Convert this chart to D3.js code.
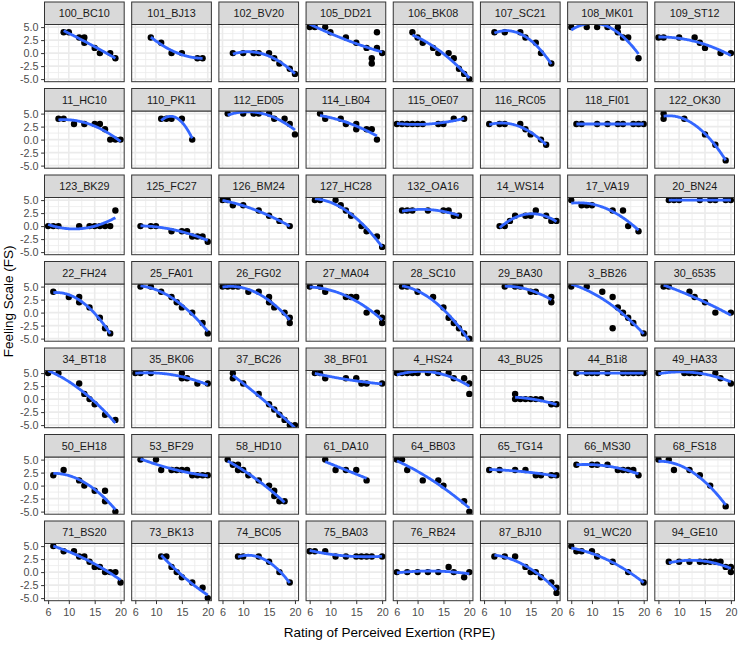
<!DOCTYPE html>
<html><head><meta charset="utf-8">
<script src="https://cdn.jsdelivr.net/npm/d3@7"></script>
<style>body{margin:0;background:#fff}svg{display:block}</style>
</head><body><svg id="c" width="738" height="647"></svg>
<script>
const ids = ["100_BC10","101_BJ13","102_BV20","105_DD21","106_BK08","107_SC21","108_MK01","109_ST12",
"11_HC10","110_PK11","112_ED05","114_LB04","115_OE07","116_RC05","118_FI01","122_OK30",
"123_BK29","125_FC27","126_BM24","127_HC28","132_OA16","14_WS14","17_VA19","20_BN24",
"22_FH24","25_FA01","26_FG02","27_MA04","28_SC10","29_BA30","3_BB26","30_6535",
"34_BT18","35_BK06","37_BC26","38_BF01","4_HS24","43_BU25","44_B1i8","49_HA33",
"50_EH18","53_BF29","58_HD10","61_DA10","64_BB03","65_TG14","66_MS30","68_FS18",
"71_BS20","73_BK13","74_BC05","75_BA03","76_RB24","87_BJ10","91_WC20","94_GE10"];

const rpe = [
[9,10,12,13,13,15,16,18,19],
[9,11,13,15,18,19],
[8,10,12,13,15,16,17,19,20],
[6,7,9,10,13,15,17,18,18,19,19,20],
[9,10,11,13,14,16,17,18,19,20],
[8,10,13,14,16,17,19],
[6,9,11,13,15,15,16,17,19],
[6,7,10,13,14,15,18,20],
[8,9,11,13,15,16,17,18,19,20],
[11,12,13,15,17],
[7,10,12,13,15,16,18,19,20],
[8,9,12,13,15,15,17,18,19],
[6,7,8,9,10,11,14,15,17,19],
[7,9,10,13,14,15,17,18],
[7,8,11,13,15,16,18,19,20],
[7,7,11,15,17,19],
[6,7,8,12,14,15,16,17,18,19],
[7,9,10,13,15,16,17,18,19,20],
[6,7,8,10,13,15,17,19],
[7,8,11,12,13,14,16,17,19,20],
[7,8,9,12,15,16,17,18],
[9,10,11,12,14,15,16,18,19,20],
[6,8,9,10,14,16,17,19],
[8,9,10,14,16,17,19,20],
[7,10,12,12,14,16,17,18],
[7,9,11,13,14,15,17,19,20],
[6,7,8,9,11,13,15,15,16,18,19,19],
[6,8,9,13,14,15,17,19,20,20],
[7,8,10,13,15,16,17,18,19,20],
[10,12,13,15,16,19,19],
[6,9,12,14,14,15,16,17,18,20],
[7,8,12,13,15,17,20],
[6,8,12,13,14,15,17,19],
[6,7,9,15,15,16,18,20],
[8,8,10,13,15,16,17,18,19,20],
[7,8,9,13,15,16,17,20],
[6,7,8,9,10,12,14,16,17,19,20,20],
[12,12,13,14,15,16,17,19,20],
[7,9,10,11,13,16,17,18,19,20],
[6,11,12,13,14,17,18,20],
[7,9,12,13,15,17,17,19],
[7,10,11,13,14,15,16,17,18,19,20],
[7,8,9,9,10,11,13,15,16,16,17,18],
[9,11,13,15,17],
[6,7,8,11,14,15,19,20],
[7,9,12,14,16,17,19,20],
[7,10,11,13,15,16,17,18,19],
[6,8,9,12,14,16,19],
[7,9,11,12,13,14,15,16,17,18,19,20],
[11,12,13,14,15,17,19,20],
[9,10,13,15,17,19],
[6,7,9,11,13,15,16,17,18,20],
[6,8,10,12,14,16,17,19,20],
[8,10,12,14,15,16,17,19,20,20],
[6,7,8,10,11,14,17,20],
[8,10,12,14,15,16,17,18,19,20,20]
];

const fs = [
[4,4,3,3,2,1,0,0,-1],
[3,2,0,0,-1,-1],
[0,0,0,0,0,-1,-2,-3,-4],
[5,5,5,4,3,2,1,-1,-2,4,1,0],
[4,3,2,1,0,0,-1,-3,-4,-5],
[4,4,4,3,2,0,-2],
[5,5,5,5,5,4,3,3,-1],
[3,3,3,3,2,1,0,0],
[4,4,3,3,3,3,2,0,0,0],
[4,4,4,4,0],
[5,5,5,5,5,4,4,3,1],
[5,4,4,3,3,2,2,2,0],
[3,3,3,3,3,3,3,3,4,4],
[3,3,3,3,2,1,0,-1],
[3,3,3,3,3,3,3,3,3],
[5,4,4,1,-1,-4],
[0,0,0,0,0,0,0,0,0,3],
[0,0,0,-1,-1,-1,-2,-2,-2,-3],
[5,5,4,4,3,2,1,0],
[5,5,5,4,3,2,0,-1,-2,-4],
[3,3,3,3,3,3,2,2],
[0,0,1,2,2,2,3,2,1,1],
[5,4,4,4,3,3,0,-1],
[5,5,5,5,5,5,5,5],
[4,3,3,2,1,-1,-3,-4],
[5,5,4,3,2,1,0,-2,-4],
[5,5,5,5,4,4,3,2,1,0,-1,-2],
[5,5,4,3,3,3,0,0,-1,-2],
[5,5,4,3,1,-1,-2,-3,-4,-5],
[5,5,5,4,4,3,2],
[5,5,4,3,-3,1,0,-1,-2,-4],
[5,5,4,3,2,0,0],
[5,5,3,1,0,-1,-3,-4],
[5,5,5,5,4,4,3,3],
[5,4,3,1,-1,-2,-3,-4,-5,-5],
[5,5,4,4,4,3,3,3],
[5,5,5,5,5,5,5,5,4,4,3,1],
[1,0,0,0,0,0,0,-1,-1],
[5,5,5,5,5,5,5,5,5,5],
[5,5,5,5,5,5,4,3],
[2,3,1,0,-1,-1,-3,-5],
[5,5,3,3,3,3,3,2,2,2,2],
[5,4,4,3,3,2,1,0,-1,-2,-3,-3],
[5,3,3,3,1],
[5,5,3,1,1,0,-3,-5],
[3,3,3,3,2,2,2,2],
[4,4,4,4,3,3,3,3,2],
[5,5,3,3,2,0,-4],
[5,4,4,3,3,2,1,1,0,0,0,-2],
[3,3,1,0,-1,-2,-3,-5],
[3,3,3,2,0,-2],
[4,4,4,3,3,3,3,3,3,3],
[0,0,0,0,0,1,0,-1,0],
[3,3,3,1,0,0,-1,-2,-3,-4],
[5,4,4,4,3,2,0,-2],
[2,2,2,2,2,2,2,2,1,1,0]
];

const xTicks = [6,10,15,20];
const xTickLabels = ["6","10","15","20"];
const yTicks = [-5,-2.5,0,2.5,5];
const yTickLabels = ["-5.0","-2.5","0.0","2.5","5.0"];
const xMinor = [8,12.5,17.5];
const yMinor = [-3.75,-1.25,1.25,3.75];
const xTitle = "Rating of Perceived Exertion (RPE)";
const yTitle = "Feeling Scale (FS)";

(function(){
const W = 738, H = 647;
const ncol = 8, nrow = 7;
const mL = 44.5, mR = 734.5, mT = 2;
const gap = 6.8, stripH = 22.5, rowStep = 86.5;
const pw = (mR - mL - 7.5*(ncol-1))/ncol;
const colStep = pw + 7.5;
const cellH = rowStep - gap;
const ph = cellH - stripH;
const mB = mT + (nrow-1)*rowStep + cellH;
const FONT = "'Liberation Sans', Arial, Helvetica, sans-serif";

const x = d3.scaleLinear().domain([5.3, 20.7]).range([0, pw]);
const y = d3.scaleLinear().domain([-5.5, 5.5]).range([ph, 0]);

// least-squares fit y ~ x + x^2, evaluated on 80 points over the data range
function quadFit(xs, ys) {
  const xm = d3.mean(xs);
  const S = [0,0,0,0,0], T = [0,0,0];
  xs.forEach((v, i) => {
    const t = v - xm; let p = 1;
    for (let m = 0; m < 5; m++) { S[m] += p; if (m < 3) T[m] += p*ys[i]; p *= t; }
  });
  const A = [[S[0],S[1],S[2],T[0]],[S[1],S[2],S[3],T[1]],[S[2],S[3],S[4],T[2]]];
  for (let c = 0; c < 3; c++) {
    let piv = c;
    for (let r = c+1; r < 3; r++) if (Math.abs(A[r][c]) > Math.abs(A[piv][c])) piv = r;
    const tmp = A[c]; A[c] = A[piv]; A[piv] = tmp;
    for (let r = 0; r < 3; r++) if (r !== c) {
      const f = A[r][c]/A[c][c];
      for (let m = c; m < 4; m++) A[r][m] -= f*A[c][m];
    }
  }
  const b = [A[0][3]/A[0][0], A[1][3]/A[1][1], A[2][3]/A[2][2]];
  const xmin = d3.min(xs), xmax = d3.max(xs);
  return d3.range(80).map(k => {
    const x0 = xmin + (xmax - xmin)*k/79, t = x0 - xm;
    return [x0, b[0] + b[1]*t + b[2]*t*t];
  });
}

const svg = d3.select("#c");
svg.append("rect").attr("width", W).attr("height", H).attr("fill", "#fff");
svg.append("defs").append("clipPath").attr("id", "pclip")
  .append("rect").attr("x", 0).attr("y", 0).attr("width", pw).attr("height", ph);

const line = d3.line().x(d => x(d[0])).y(d => y(d[1]));

ids.forEach((id, idx) => {
  const col = idx % ncol, row = Math.floor(idx / ncol);
  const px = mL + col*colStep;
  const py = mT + row*rowStep + stripH;
  const g = svg.append("g").attr("transform", `translate(${px},${py})`);

  g.append("rect").attr("width", pw).attr("height", ph).attr("fill", "#fff");
  g.selectAll(".xm").data(xMinor).join("line")
    .attr("x1", d => x(d)).attr("x2", d => x(d)).attr("y1", 0).attr("y2", ph)
    .attr("stroke", "#EBEBEB").attr("stroke-width", 0.8);
  g.selectAll(".ym").data(yMinor).join("line")
    .attr("y1", d => y(d)).attr("y2", d => y(d)).attr("x1", 0).attr("x2", pw)
    .attr("stroke", "#EBEBEB").attr("stroke-width", 0.8);
  g.selectAll(".xM").data(xTicks).join("line")
    .attr("x1", d => x(d)).attr("x2", d => x(d)).attr("y1", 0).attr("y2", ph)
    .attr("stroke", "#EBEBEB").attr("stroke-width", 1.6);
  g.selectAll(".yM").data(yTicks).join("line")
    .attr("y1", d => y(d)).attr("y2", d => y(d)).attr("x1", 0).attr("x2", pw)
    .attr("stroke", "#EBEBEB").attr("stroke-width", 1.6);

  const pts = rpe[idx].map((v, i) => [v, fs[idx][i]]);
  const inner = g.append("g").attr("clip-path", "url(#pclip)");
  inner.selectAll("circle").data(pts).join("circle")
    .attr("cx", d => x(d[0])).attr("cy", d => y(d[1])).attr("r", 3.2)
    .attr("fill", "#000");
  inner.append("path").datum(quadFit(rpe[idx], fs[idx]))
    .attr("d", line).attr("fill", "none").attr("stroke", "#3366FF")
    .attr("stroke-width", 2.8).attr("stroke-linejoin", "round");

  g.append("rect").attr("width", pw).attr("height", ph)
    .attr("fill", "none").attr("stroke", "#333").attr("stroke-width", 1);
  g.append("rect").attr("x", 0).attr("y", -stripH).attr("width", pw).attr("height", stripH)
    .attr("fill", "#D9D9D9").attr("stroke", "#333").attr("stroke-width", 1);
  g.append("text").attr("x", pw/2).attr("y", -stripH/2).attr("dy", "0.36em")
    .attr("text-anchor", "middle").attr("font-family", FONT).attr("font-size", "10.8px")
    .attr("fill", "#1A1A1A").text(id);

  if (col === 0) {
    const ax = g.append("g").call(d3.axisLeft(y).tickValues(yTicks)
      .tickFormat((d, i) => yTickLabels[i]).tickSize(3.4).tickPadding(2.6));
    ax.select(".domain").remove();
    ax.selectAll("line").attr("stroke", "#333");
    ax.selectAll("text").attr("fill", "#4D4D4D").attr("font-family", FONT).attr("font-size", "10.8px");
  }
  if (row === nrow - 1) {
    const ax = g.append("g").attr("transform", `translate(0,${ph})`)
      .call(d3.axisBottom(x).tickValues(xTicks)
      .tickFormat((d, i) => xTickLabels[i]).tickSize(3.4).tickPadding(4));
    ax.select(".domain").remove();
    ax.selectAll("line").attr("stroke", "#333");
    ax.selectAll("text").attr("fill", "#4D4D4D").attr("font-family", FONT).attr("font-size", "10.8px");
  }
});

svg.append("text").attr("x", (mL + mR)/2).attr("y", 637)
  .attr("text-anchor", "middle").attr("font-family", FONT).attr("font-size", "13.5px")
  .attr("fill", "#000").text(xTitle);
svg.append("text").attr("transform", `translate(13,${(mT + mB)/2}) rotate(-90)`)
  .attr("text-anchor", "middle").attr("font-family", FONT).attr("font-size", "13.5px")
  .attr("fill", "#000").text(yTitle);
})();
</script></body></html>
